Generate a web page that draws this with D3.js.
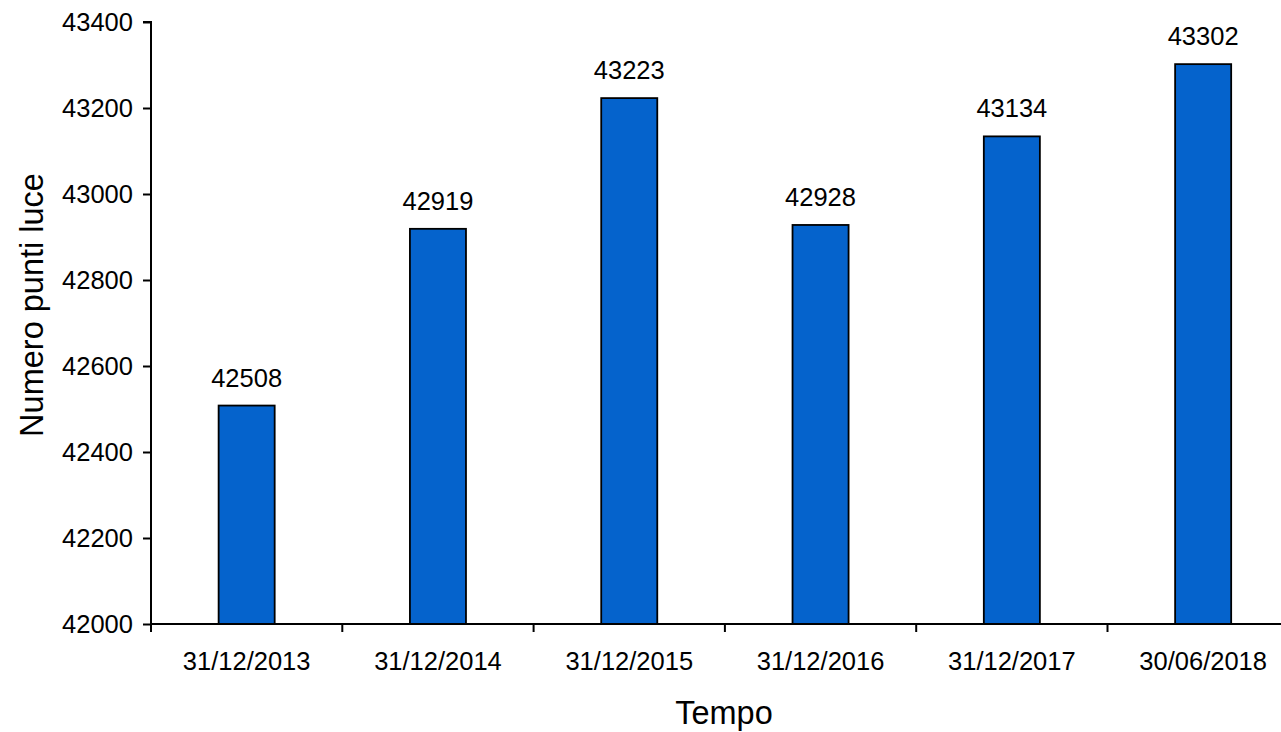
<!DOCTYPE html>
<html><head><meta charset="utf-8">
<script src="https://cdn.jsdelivr.net/npm/d3@7"></script>
<style>html,body{margin:0;padding:0;background:#fff;}svg{display:block;}</style>
</head><body>
<svg id="c" width="1281" height="732"></svg>
<script>
const categories = ["31/12/2013","31/12/2014","31/12/2015","31/12/2016","31/12/2017","30/06/2018"];
const values = [42508, 42919, 43223, 42928, 43134, 43302];
const yTicks = [42000, 42200, 42400, 42600, 42800, 43000, 43200, 43400];

(function(){
const svg = d3.select("#c");
const font = "Liberation Sans, Arial, sans-serif";
const mLeft = 151, mTop = 22, mBottom = 624, mRight = 151 + 6*191.3;
const fs = 25.5, tfs = 32.5;

const x = d3.scaleBand().domain(categories).range([mLeft, mRight]).paddingInner(0).paddingOuter(0);
const y = d3.scaleLinear().domain([42000, 43400]).range([mBottom, mTop]);
const barW = x.bandwidth()*0.293;

svg.append("g").selectAll("rect").data(values).join("rect")
  .attr("x", (d,i)=> x(categories[i]) + x.bandwidth()/2 - barW/2)
  .attr("y", d=> y(d))
  .attr("width", barW)
  .attr("height", d=> mBottom - y(d))
  .attr("fill", "#0563cc")
  .attr("stroke", "#000").attr("stroke-width", 1.8);

svg.append("g").selectAll("text").data(values).join("text")
  .attr("x", (d,i)=> x(categories[i]) + x.bandwidth()/2)
  .attr("y", d=> y(d) - 19)
  .attr("text-anchor","middle")
  .attr("font-family", font).attr("font-size", fs).attr("fill","#000")
  .text(d=> d);

const yAxis = d3.axisLeft(y).tickValues(yTicks).tickSize(8).tickPadding(10).tickFormat(d3.format("d"));
const gy = svg.append("g").attr("transform",`translate(${mLeft},0)`).call(yAxis);
gy.select(".domain").attr("stroke","#000").attr("stroke-width",2).attr("d",`M-8,${mTop}H0V${mBottom}`);
gy.selectAll(".tick line").attr("stroke","#000").attr("stroke-width",2);
gy.selectAll(".tick text").attr("font-family",font).attr("font-size",fs).attr("fill","#000");

const bounds = categories.map(c=> x(c)).concat([mRight]);
const gx = svg.append("g");
gx.append("line").attr("x1",mLeft).attr("x2",mRight).attr("y1",mBottom).attr("y2",mBottom)
  .attr("stroke","#000").attr("stroke-width",2);
gx.selectAll("line.t").data(bounds).join("line").attr("class","t")
  .attr("x1",d=>d).attr("x2",d=>d).attr("y1",mBottom).attr("y2",mBottom+8)
  .attr("stroke","#000").attr("stroke-width",2);
gx.selectAll("text").data(categories).join("text")
  .attr("x", d=> x(d)+x.bandwidth()/2).attr("y", 670)
  .attr("text-anchor","middle")
  .attr("font-family",font).attr("font-size",fs).attr("fill","#000")
  .text(d=>d);

svg.append("text").attr("x", 724).attr("y", 724).attr("text-anchor","middle")
  .attr("font-family",font).attr("font-size",tfs).attr("fill","#000").text("Tempo");
svg.append("text").attr("transform",`translate(43,305) rotate(-90)`)
  .attr("text-anchor","middle")
  .attr("font-family",font).attr("font-size",tfs).attr("fill","#000").text("Numero punti luce");
})();
</script>
</body></html>
